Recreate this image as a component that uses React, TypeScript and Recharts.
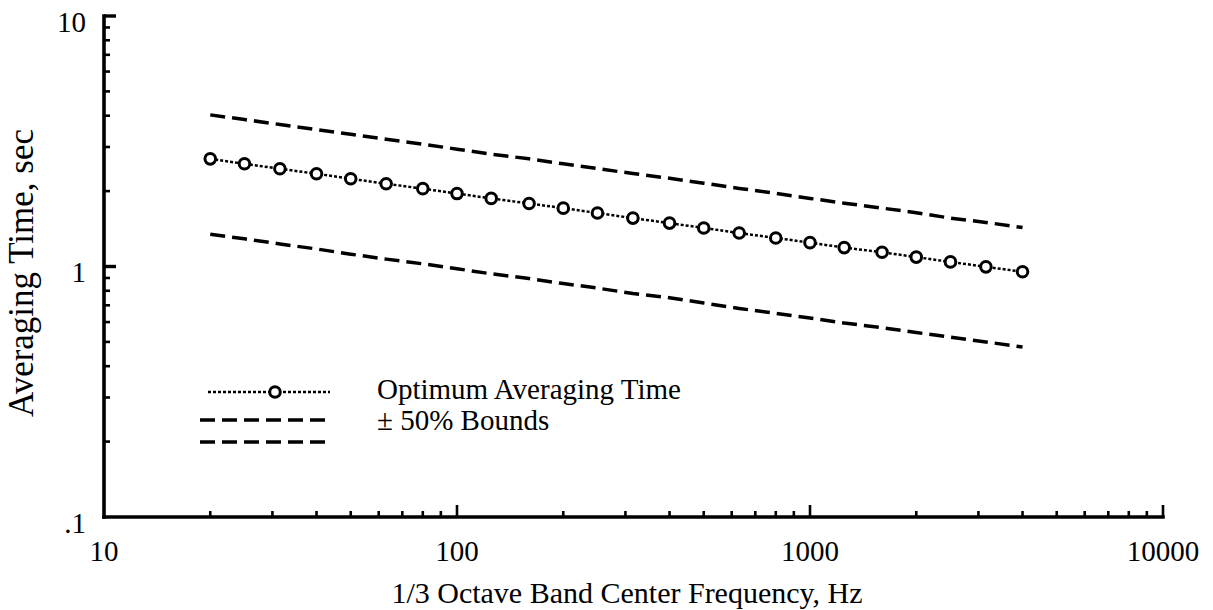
import React from 'react';
import { LineChart, Line, XAxis, YAxis, Legend } from 'recharts';

const frequencies = [20, 25, 31.5, 40, 50, 63, 80, 100, 125, 160, 200, 250, 315, 400, 500, 630, 800, 1000, 1250, 1600, 2000, 2500, 3150, 4000];
const optimumTime = [2.69, 2.57, 2.455, 2.345, 2.24, 2.14, 2.045, 1.955, 1.87, 1.785, 1.71, 1.635, 1.56, 1.49, 1.425, 1.36, 1.3, 1.245, 1.19, 1.14, 1.09, 1.043, 0.997, 0.953];
const upperBound = [4.03, 3.86, 3.69, 3.52, 3.37, 3.22, 3.08, 2.94, 2.81, 2.69, 2.57, 2.46, 2.35, 2.25, 2.15, 2.05, 1.96, 1.87, 1.79, 1.71, 1.64, 1.56, 1.5, 1.43];
const lowerBound = [1.345, 1.29, 1.23, 1.175, 1.12, 1.07, 1.025, 0.98, 0.935, 0.895, 0.855, 0.82, 0.78, 0.75, 0.715, 0.68, 0.65, 0.623, 0.595, 0.57, 0.545, 0.522, 0.5, 0.477];

const xTicks = [10, 20, 30, 40, 50, 60, 70, 80, 90, 100, 200, 300, 400, 500, 600, 700, 800, 900, 1000, 2000, 3000, 4000, 5000, 6000, 7000, 8000, 9000, 10000];
const xMajorTicks = [10, 100, 1000, 10000];
const xTickLabels = ['10', '100', '1000', '10000'];
const yTicks = [0.1, 0.2, 0.3, 0.4, 0.5, 0.6, 0.7, 0.8, 0.9, 1, 2, 3, 4, 5, 6, 7, 8, 9, 10];
const yMajorTicks = [0.1, 1, 10];
const yTickLabels = ['.1', '1', '10'];
const legendLabels = ['Optimum Averaging Time', '\u00B1 50% Bounds', ''];
const xTitle = '1/3 Octave Band Center Frequency, Hz';
const yTitle = 'Averaging Time, sec';

const FONT = 'Liberation Serif';

const data = frequencies.map((f, i) => ({
  f,
  opt: optimumTime[i],
  up: upperBound[i],
  lo: lowerBound[i],
}));

const XTick = (props: any) => {
  const { x, y, payload } = props;
  const v = payload.value;
  const idx = xMajorTicks.findIndex((m) => Math.abs(m - v) < 1e-6);
  const major = idx >= 0;
  return (
    <g>
      {v !== 10 && (
        <line x1={x} x2={x} y1={y} y2={y - (major ? 12 : 6)} stroke="#000" strokeWidth={2.6} />
      )}
      {major && (
        <text x={x} y={y + 44} textAnchor="middle" style={{ fontFamily: FONT }} fontSize={29} fill="#000">
          {xTickLabels[idx]}
        </text>
      )}
    </g>
  );
};

const YTick = (props: any) => {
  const { x, y, payload } = props;
  const v = payload.value;
  const idx = yMajorTicks.findIndex((m) => Math.abs(m - v) < 1e-9);
  const major = idx >= 0;
  return (
    <g>
      {Math.abs(v - 0.1) > 1e-9 && (
        <line x1={x} x2={x + (major ? 12 : 6)} y1={y} y2={y} stroke="#000" strokeWidth={major ? 3.4 : 2.6} />
      )}
      {major && (
        <text x={x - 18} y={y + 15.5} textAnchor="end" style={{ fontFamily: FONT }} fontSize={29} fill="#000">
          {yTickLabels[idx]}
        </text>
      )}
    </g>
  );
};

const XTitle = () => (
  <text x={627} y={603} textAnchor="middle" style={{ fontFamily: FONT }} fontSize={30} fill="#000">
    {xTitle}
  </text>
);

const YTitle = () => (
  <text
    x={33}
    y={273}
    textAnchor="middle"
    transform="rotate(-90, 33, 273)"
    style={{ fontFamily: FONT }}
    fontSize={35}
    fill="#000"
  >
    {yTitle}
  </text>
);

const OptDot = (props: any) => {
  const { cx, cy, index } = props;
  if (cx == null || cy == null) return <g key={`d-${index}`} />;
  return <circle key={`d-${index}`} cx={cx} cy={cy} r={5.3} fill="#fff" stroke="#000" strokeWidth={3} />;
};

const LegendContent = () => (
  <svg width={430} height={90} style={{ display: 'block', overflow: 'visible' }}>
    <line x1={13} x2={135} y1={22} y2={22} stroke="#000" strokeWidth={2.5} strokeDasharray="3 2" />
    <circle cx={80} cy={22} r={5.3} fill="#fff" stroke="#000" strokeWidth={3} />
    <text x={182} y={29} style={{ fontFamily: FONT }} fontSize={29} fill="#000">{legendLabels[0]}</text>
    <line x1={5} x2={135} y1={50} y2={50} stroke="#000" strokeWidth={3.5} strokeDasharray="15 7" />
    <text x={182} y={60} style={{ fontFamily: FONT }} fontSize={29} fill="#000">{legendLabels[1]}</text>
    <line x1={5} x2={135} y1={72} y2={72} stroke="#000" strokeWidth={3.5} strokeDasharray="15 7" />
  </svg>
);

export default function App() {
  return (
    <div style={{ position: 'absolute', left: 0, top: 0, width: 1213, height: 610, background: '#fff' }}>
      <LineChart width={1213} height={610} data={data} margin={{ top: 16, right: 50, left: 0, bottom: 0 }}>
        <XAxis
          dataKey="f"
          type="number"
          scale="log"
          domain={[10, 10000]}
          allowDataOverflow
          ticks={xTicks}
          interval={0}
          tick={<XTick />}
          tickLine={false}
          tickSize={0}
          tickMargin={0}
          height={93}
          axisLine={{ stroke: '#000', strokeWidth: 3.6, strokeLinecap: 'square' }}
          label={<XTitle />}
        />
        <YAxis
          type="number"
          scale="log"
          domain={[0.1, 10]}
          allowDataOverflow
          ticks={yTicks}
          interval={0}
          tick={<YTick />}
          tickLine={false}
          tickSize={0}
          tickMargin={0}
          width={104}
          axisLine={{ stroke: '#000', strokeWidth: 3.6, strokeLinecap: 'square' }}
          label={<YTitle />}
        />
        <Legend
          layout="vertical"
          align="center"
          verticalAlign="middle"
          content={<LegendContent />}
          wrapperStyle={{ position: 'absolute', left: 195, top: 370, width: 430, height: 90 }}
        />
        <Line
          dataKey="up"
          name={legendLabels[1]}
          type="linear"
          stroke="#000"
          strokeWidth={3.5}
          strokeDasharray="15 7"
          dot={false}
          activeDot={false}
          isAnimationActive={false}
        />
        <Line
          dataKey="lo"
          name={legendLabels[2]}
          type="linear"
          stroke="#000"
          strokeWidth={3.5}
          strokeDasharray="15 7"
          dot={false}
          activeDot={false}
          isAnimationActive={false}
        />
        <Line
          dataKey="opt"
          name={legendLabels[0]}
          type="linear"
          stroke="#000"
          strokeWidth={2.5}
          strokeDasharray="3 2"
          dot={<OptDot />}
          activeDot={false}
          isAnimationActive={false}
        />
      </LineChart>
    </div>
  );
}
